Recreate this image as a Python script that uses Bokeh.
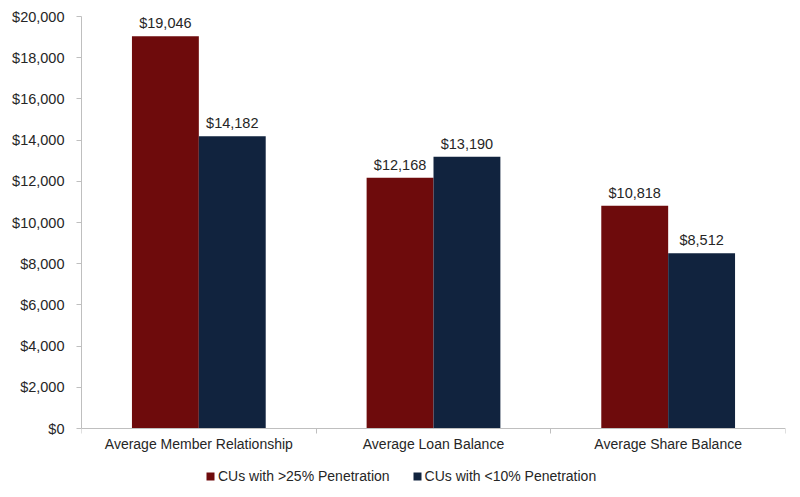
from bokeh.plotting import figure
from bokeh.models import (ColumnDataSource, Range1d, FixedTicker, NumeralTickFormatter,
                          Legend, LegendItem, LabelSet, LinearAxis)
from bokeh.core.properties import value
from bokeh.embed import file_html
from bokeh.resources import INLINE

categories = ["Average Member Relationship", "Average Loan Balance", "Average Share Balance"]
series_names = ["CUs with >25% Penetration", "CUs with <10% Penetration"]
high_pen = [19046, 12168, 10818]
low_pen = [14182, 13190, 8512]
y_max = 20000
colors = ["#6E0B0C", "#11233E"]

FONT = "Liberation Sans"
TXT = "#262626"

idx = list(range(len(categories)))
bar_w = 0.285
src_hi = ColumnDataSource(dict(x=[i + 0.5 - bar_w / 2 for i in idx], top=high_pen,
                               lab=["${:,}".format(v) for v in high_pen]))
src_lo = ColumnDataSource(dict(x=[i + 0.5 + bar_w / 2 for i in idx], top=low_pen,
                               lab=["${:,}".format(v) for v in low_pen]))
src_cat = ColumnDataSource(dict(x=[i + 0.5 for i in idx], y=[0] * len(idx), lab=categories))

# frame extends below the zero line to make room for category labels and legend
plot_px = 412
frame_h = 470
y_start = -y_max * (frame_h - plot_px) / plot_px

p = figure(frame_width=704, frame_height=frame_h, output_backend="svg", toolbar_location=None,
           x_range=Range1d(0, len(categories)), y_range=Range1d(y_start, y_max),
           x_axis_location=None, y_axis_location=None,
           min_border_left=81, min_border_right=15, min_border_top=16, min_border_bottom=0)
p.outline_line_color = None
p.grid.visible = False
p.background_fill_color = "white"

r_hi = p.vbar(x="x", top="top", width=bar_w, source=src_hi, color=colors[0], line_color=None)
r_lo = p.vbar(x="x", top="top", width=bar_w, source=src_lo, color=colors[1], line_color=None)

for s in (src_hi, src_lo):
    p.add_layout(LabelSet(x="x", y="top", text="lab", source=s, text_align="center",
                          text_baseline="bottom", y_offset=5, text_font=value(FONT),
                          text_font_size="14.5px", text_color=TXT))

p.add_layout(LabelSet(x="x", y="y", text="lab", source=src_cat, text_align="center",
                      text_baseline="top", y_offset=-7, text_font=value(FONT),
                      text_font_size="14px", text_color=TXT))

yax = LinearAxis(ticker=FixedTicker(ticks=list(range(0, y_max + 1, 2000)), minor_ticks=[]),
                 formatter=NumeralTickFormatter(format="$0,0"), bounds=(0, y_max))
yax.axis_line_color = "#BFBFBF"
yax.major_tick_line_color = "#BFBFBF"
yax.major_tick_out = 5
yax.major_tick_in = 0
yax.minor_tick_line_color = None
yax.major_label_standoff = 12
yax.major_label_text_font = FONT
yax.major_label_text_font_size = "14.5px"
yax.major_label_text_color = TXT
p.add_layout(yax, "left")

xax = LinearAxis(ticker=FixedTicker(ticks=list(range(len(categories) + 1)), minor_ticks=[]),
                 fixed_location=0)
xax.axis_line_color = "#BFBFBF"
xax.major_tick_line_color = "#BFBFBF"
xax.major_tick_out = 5
xax.major_tick_in = 0
xax.minor_tick_line_color = None
xax.major_label_standoff = 0
xax.major_label_text_font_size = "0px"
xax.major_label_text_color = None
p.add_layout(xax, "below")

legend = Legend(items=[LegendItem(label=series_names[0], renderers=[r_hi]),
                       LegendItem(label=series_names[1], renderers=[r_lo])],
                orientation="horizontal", location=(124, 2),
                glyph_width=10, glyph_height=10, label_standoff=3, spacing=22,
                label_text_font=FONT, label_text_font_size="14px", label_text_color=TXT,
                border_line_color=None, background_fill_alpha=0,
                padding=4, margin=0)
p.add_layout(legend, "center")

open("out.html", "w").write(file_html(p, INLINE))
